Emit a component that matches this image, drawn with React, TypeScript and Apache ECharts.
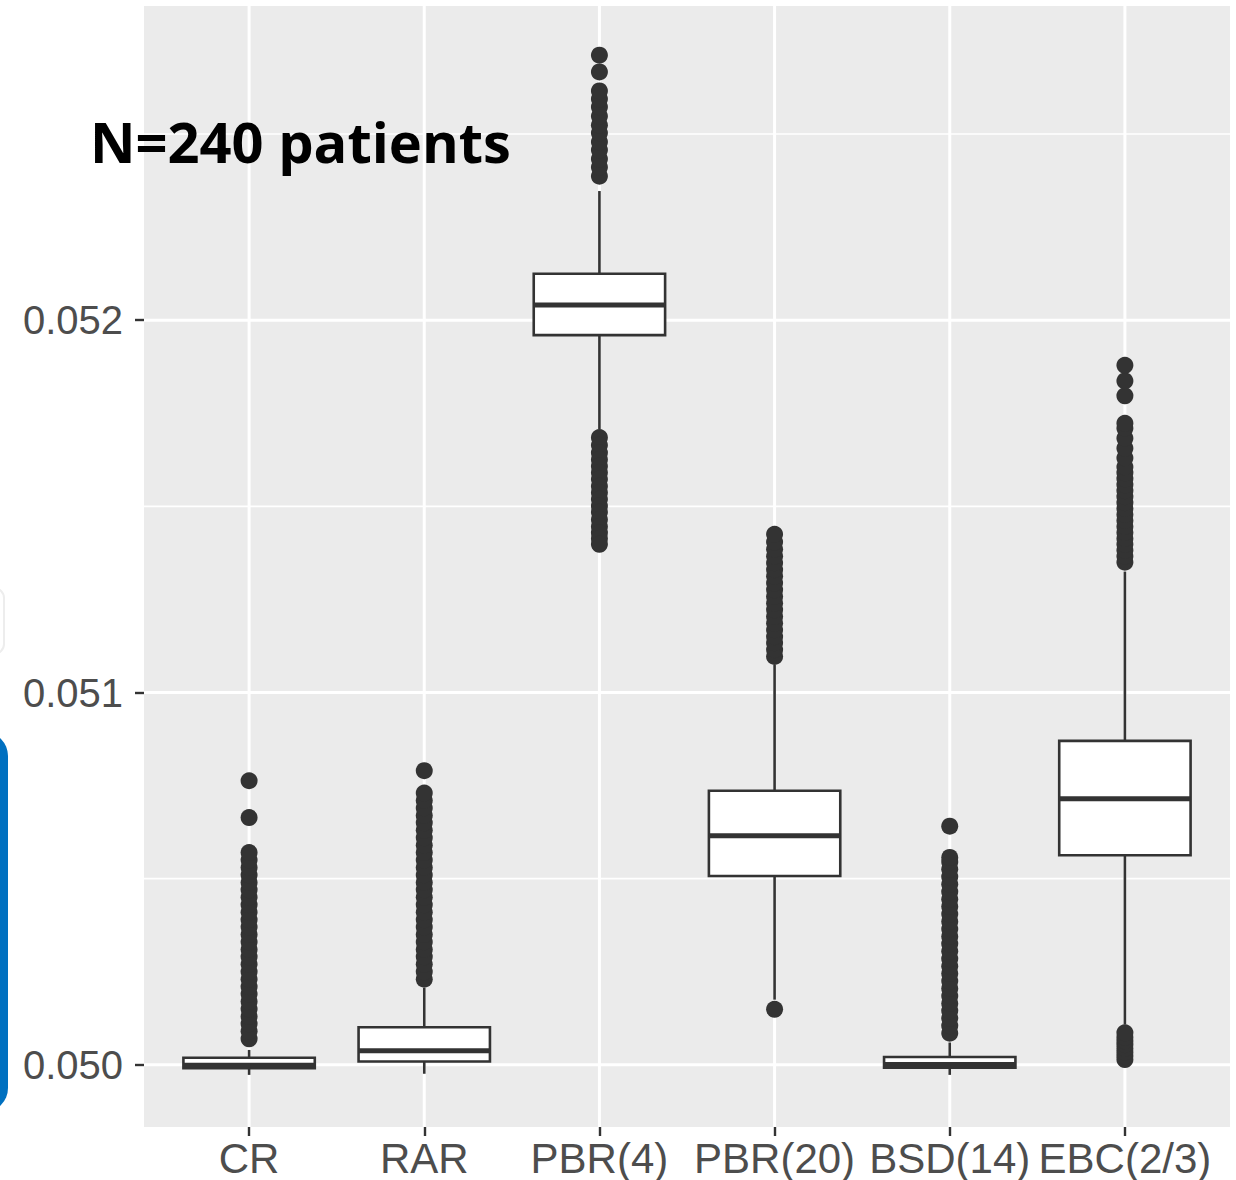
import { useEffect, useRef } from "react";
import * as echarts from "echarts";

const categories = ["CR", "RAR", "PBR(4)", "PBR(20)", "BSD(14)", "EBC(2/3)"];

const whiskerLow = [0.049973, 0.049976, 0.051707, 0.050175, 0.049973, 0.050108];
const q1 = [0.049991, 0.050009, 0.05196, 0.050507, 0.049992, 0.050563];
const median = [0.049999, 0.050038, 0.052041, 0.050615, 0.050001, 0.050715];
const q3 = [0.050019, 0.050101, 0.052125, 0.050736, 0.050021, 0.05087];
const whiskerHigh = [0.05004, 0.050207, 0.052347, 0.051075, 0.05006, 0.051325];

const crOutliers = [
  0.05007, 0.05009, 0.05011, 0.05013, 0.05015, 0.05017, 0.05019, 0.05021, 0.05023,
  0.05025, 0.05027, 0.05029, 0.05031, 0.05033, 0.05035, 0.05037, 0.05039, 0.05041,
  0.05043, 0.05045, 0.05047, 0.05049, 0.05051, 0.05053, 0.05055, 0.05057, 0.050664,
  0.050763,
];
const rarOutliers = [
  0.05023, 0.05025, 0.05027, 0.05029, 0.05031, 0.05033, 0.05035, 0.05037, 0.05039,
  0.05041, 0.05043, 0.05045, 0.05047, 0.05049, 0.05051, 0.05053, 0.05055, 0.05057,
  0.05059, 0.05061, 0.05063, 0.05065, 0.05067, 0.05069, 0.05071, 0.05073, 0.05079,
];
const pbr4Outliers = [
  0.052387, 0.052411, 0.052433, 0.052457, 0.052479, 0.052503, 0.052524, 0.052548,
  0.052573, 0.052594, 0.052616, 0.052667, 0.052712,
  0.051685, 0.051664, 0.051644, 0.051626, 0.051608, 0.051591, 0.051573, 0.051554,
  0.051537, 0.051519, 0.051501, 0.051484, 0.051465, 0.051446, 0.051429, 0.051414,
  0.051398,
];
const pbr20Outliers = [
  0.051097, 0.051115, 0.051133, 0.05115, 0.051168, 0.051186, 0.051204, 0.051222,
  0.05124, 0.051258, 0.051276, 0.051294, 0.051312, 0.05133, 0.051348, 0.051366,
  0.051385, 0.051404, 0.051425, 0.050149,
];
const bsdOutliers = [
  0.050085, 0.050105, 0.050125, 0.050145, 0.050165, 0.050185, 0.050205, 0.050225,
  0.050245, 0.050265, 0.050285, 0.050305, 0.050325, 0.050345, 0.050365, 0.050385,
  0.050405, 0.050425, 0.050445, 0.050465, 0.050485, 0.050505, 0.050525, 0.050545,
  0.050557, 0.050641,
];
const ebcOutliers = [
  0.05135, 0.051366, 0.051382, 0.051398, 0.051414, 0.05143, 0.051446, 0.051462,
  0.051478, 0.051494, 0.05151, 0.051526, 0.051542, 0.051558, 0.051574, 0.05159,
  0.051606, 0.05163, 0.051656, 0.051683, 0.05171, 0.051723, 0.051797, 0.051837,
  0.051879,
  0.050014, 0.050024, 0.050034, 0.050044, 0.050054, 0.050064, 0.050074, 0.050086,
];

const outlierSets = [crOutliers, rarOutliers, pbr4Outliers, pbr20Outliers, bsdOutliers, ebcOutliers];

const yTicks = [0.05, 0.051, 0.052];
const yMinorGrid = [0.0505, 0.0515, 0.0525];
const xTicks = [0, 1, 2, 3, 4, 5];
const yMin = 0.049833;
const yMax = 0.052844;

const TITLE = "N=240 patients";

export default function App() {
  const ref = useRef<HTMLDivElement>(null);
  useEffect(() => {
    document.body.style.margin = "0";
    const chart = echarts.init(ref.current!, null, { renderer: "svg" });
    const boxData = categories.map((_, i) => [i, whiskerLow[i], q1[i], median[i], q3[i], whiskerHigh[i]]);
    const outlierData = outlierSets.flatMap((arr, i) => arr.map((v) => [i, v]));
    const dark = "#333333";

    const hLine = (width: number) => (params: any, api: any) => {
      const y = api.coord([0, api.value(1)])[1];
      const cs = params.coordSys;
      return {
        type: "line",
        shape: { x1: cs.x, y1: y, x2: cs.x + cs.width, y2: y },
        style: { stroke: "#FFFFFF", lineWidth: width },
      };
    };

    chart.setOption({
      animation: false,
      grid: {
        left: 144,
        right: 6,
        top: 6,
        bottom: 53,
        show: true,
        backgroundColor: "#EBEBEB",
        borderWidth: 0,
      },
      xAxis: {
        type: "value",
        min: -0.6,
        max: 5.6,
        axisLine: { show: false, onZero: false },
        splitLine: { show: false },
        axisTick: { show: true, length: 9, customValues: xTicks, lineStyle: { color: dark, width: 2.4 } },
        axisLabel: {
          customValues: xTicks,
          formatter: (v: number) => categories[Math.round(v)] ?? "",
          color: "#4D4D4D",
          fontSize: 42,
          fontFamily: "Liberation Sans",
          margin: 10,
        },
      },
      yAxis: {
        type: "value",
        min: yMin,
        max: yMax,
        axisLine: { show: false, onZero: false },
        splitLine: { show: false },
        axisTick: { show: true, length: 9, customValues: yTicks, lineStyle: { color: dark, width: 2.4 } },
        axisLabel: {
          customValues: yTicks,
          formatter: (v: number) => v.toFixed(3),
          color: "#4D4D4D",
          fontSize: 40,
          fontFamily: "Liberation Sans",
          margin: 21,
        },
      },
      series: [
        {
          type: "custom",
          name: "minorGrid",
          z: 1,
          silent: true,
          data: yMinorGrid.map((v) => [0, v]),
          encode: { x: 0, y: 1 },
          renderItem: hLine(1.6),
        },
        {
          type: "custom",
          name: "majorGrid",
          z: 1,
          silent: true,
          data: yTicks.map((v) => [0, v]),
          encode: { x: 0, y: 1 },
          renderItem: hLine(3),
        },
        {
          type: "custom",
          name: "xGrid",
          z: 1,
          silent: true,
          data: xTicks.map((i) => [i, yMin]),
          encode: { x: 0, y: 1 },
          renderItem: (params: any, api: any) => {
            const x = api.coord([api.value(0), yMin])[0];
            const cs = params.coordSys;
            return {
              type: "line",
              shape: { x1: x, y1: cs.y, x2: x, y2: cs.y + cs.height },
              style: { stroke: "#FFFFFF", lineWidth: 3 },
            };
          },
        },
        {
          type: "custom",
          name: "boxes",
          z: 2,
          data: boxData,
          encode: { x: 0, y: [1, 2, 3, 4, 5] },
          renderItem: (_params: any, api: any) => {
            const x = api.value(0);
            const pLow = api.coord([x, api.value(1)]);
            const pQ1 = api.coord([x, api.value(2)]);
            const pMed = api.coord([x, api.value(3)]);
            const pQ3 = api.coord([x, api.value(4)]);
            const pHigh = api.coord([x, api.value(5)]);
            const w = api.size([0.75, 0])[0];
            const cx = pQ1[0];
            return {
              type: "group",
              children: [
                { type: "line", shape: { x1: cx, y1: pLow[1], x2: cx, y2: pQ1[1] }, style: { stroke: dark, lineWidth: 2.6 } },
                { type: "line", shape: { x1: cx, y1: pQ3[1], x2: cx, y2: pHigh[1] }, style: { stroke: dark, lineWidth: 2.6 } },
                {
                  type: "rect",
                  shape: { x: cx - w / 2, y: pQ3[1], width: w, height: pQ1[1] - pQ3[1] },
                  style: { fill: "#FFFFFF", stroke: dark, lineWidth: 2.6 },
                },
                {
                  type: "line",
                  shape: { x1: cx - w / 2, y1: pMed[1], x2: cx + w / 2, y2: pMed[1] },
                  style: { stroke: dark, lineWidth: 5 },
                },
              ],
            };
          },
        },
        {
          type: "scatter",
          name: "outliers",
          z: 3,
          symbol: "circle",
          symbolSize: 17,
          itemStyle: { color: dark, opacity: 1 },
          data: outlierData,
        },
      ],
      graphic: [
        {
          type: "rect",
          shape: { x: -40, y: 732, width: 48, height: 380, r: 26 },
          style: { fill: "#0070C0" },
          z: 10,
        },
        {
          type: "rect",
          shape: { x: -20, y: 588, width: 24, height: 66, r: 10 },
          style: { fill: "none", stroke: "#EDEDED", lineWidth: 2 },
          z: 10,
        },
        {
          type: "text",
          x: 90,
          y: 141,
          z: 10,
          style: {
            text: TITLE,
            fill: "#000000",
            font: "bold 56px 'Open Sans'",
            verticalAlign: "middle",
            align: "left",
          },
        },
      ],
    });
    return () => chart.dispose();
  }, []);
  return <div ref={ref} style={{ position: "absolute", left: 0, top: 0, width: 1236, height: 1180 }} />;
}
